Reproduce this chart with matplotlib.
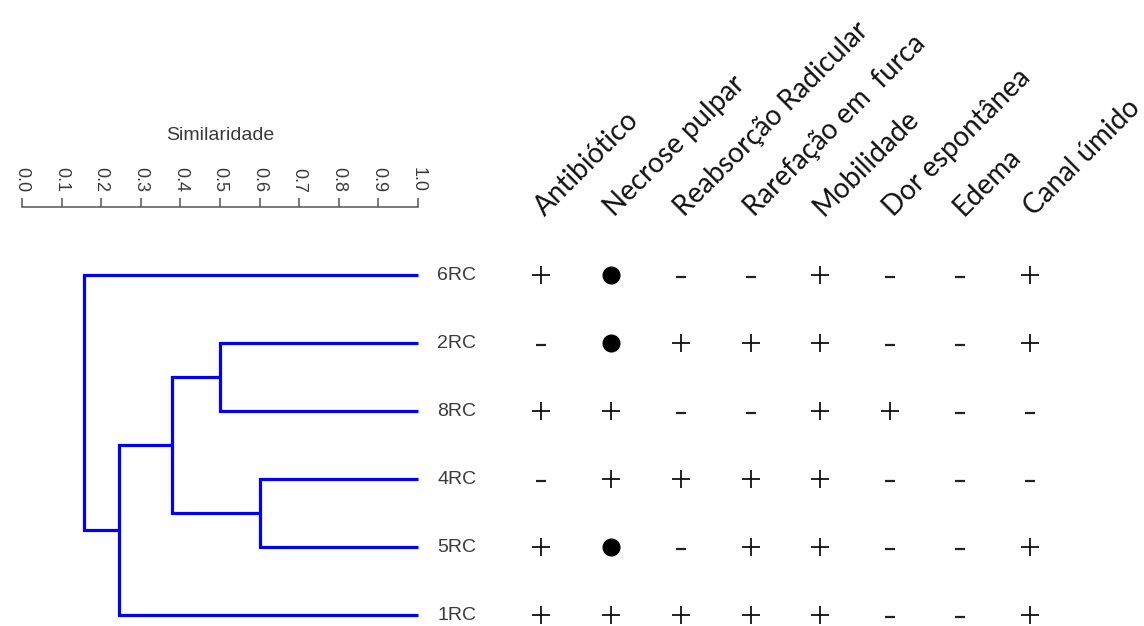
import matplotlib.pyplot as plt

# folhas do dendrograma (de cima para baixo)
leaves = ['6RC', '2RC', '8RC', '4RC', '5RC', '1RC']

# fusoes: nos 0..5 sao as folhas, nos novos recebem 6, 7, 8...
merge_left = [1, 3, 6, 8, 0]
merge_right = [2, 4, 7, 5, 9]
merge_sim = [0.50, 0.60, 0.38, 0.245, 0.157]

sim_ticks = [0.0, 0.1, 0.2, 0.3, 0.4, 0.5, 0.6, 0.7, 0.8, 0.9, 1.0]

columns = ['Antibiótico', 'Necrose pulpar', 'Reabsorção Radicular',
           'Rarefação em  furca', 'Mobilidade', 'Dor espontânea',
           'Edema', 'Canal úmido']

# '+' presente, '-' ausente, 'o' = ponto
table = [
    ['+', 'o', '-', '-', '+', '-', '-', '+'],   # 6RC
    ['-', 'o', '+', '+', '+', '-', '-', '+'],   # 2RC
    ['+', '+', '-', '-', '+', '+', '-', '-'],   # 8RC
    ['-', '+', '+', '+', '+', '-', '-', '-'],   # 4RC
    ['+', 'o', '-', '+', '+', '-', '-', '+'],   # 5RC
    ['+', '+', '+', '+', '+', '-', '-', '+'],   # 1RC
]

W, H = 1144, 626
fig = plt.figure(figsize=(W / 100, H / 100), dpi=100)


def px_axes(x0, y0, x1, y1):
    return fig.add_axes([x0 / W, 1 - y1 / H, (x1 - x0) / W, (y1 - y0) / H])


row_px = 68.0
ylim = (len(leaves) - 1 + (626 - 615) / row_px, -(275 - 207) / row_px)

# ---------------- dendrograma ----------------
ax = px_axes(22, 207, 418, 626)
ax.set_xlim(0, 1)
ax.set_ylim(*ylim)

nodes = [(1.0, i) for i in range(len(leaves))]
for a, b, s in zip(merge_left, merge_right, merge_sim):
    xa, ya = nodes[a]
    xb, yb = nodes[b]
    ax.plot([xa, s, s, xb], [ya, ya, yb, yb], color='#0000ff', lw=2.3,
            solid_joinstyle='miter', solid_capstyle='butt', clip_on=False)
    nodes.append((s, (ya + yb) / 2))

for i, name in enumerate(leaves):
    ax.annotate(name, (1.0, i), xytext=(14, 0), textcoords='offset points',
                va='center', ha='left', fontsize=14, color='#3a3a3a',
                family='Liberation Sans', annotation_clip=False)

for side in ['left', 'right', 'bottom']:
    ax.spines[side].set_visible(False)
ax.spines['top'].set_color('#555555')
ax.spines['top'].set_linewidth(1.1)
ax.xaxis.tick_top()
ax.xaxis.set_label_position('top')
ax.set_xticks(sim_ticks)
ax.set_xticklabels([f'{t:.1f}' for t in sim_ticks], rotation=-90,
                   fontsize=13, color='#3a3a3a', family='Liberation Sans')
ax.tick_params(axis='x', direction='out', length=6.5, width=1.1,
               color='#555555', pad=4)
ax.set_yticks([])
ax.set_xlabel('Similaridade', fontsize=14, color='#3a3a3a',
              family='Liberation Sans', labelpad=20)

# ---------------- tabela de sinais ----------------
ax2 = px_axes(541 - 35, 207, 1030 + 35, 626)
ax2.set_xlim(-0.5, len(columns) - 0.5)
ax2.set_ylim(*ylim)
ax2.axis('off')

for r, row in enumerate(table):
    for c, v in enumerate(row):
        if v == '+':
            ax2.plot(c, r, marker='+', ms=12.5, mew=1.3, color='#111111')
        elif v == '-':
            ax2.plot(c, r + 0.03, marker='_', ms=7, mew=1.6, color='#222222')
        else:
            ax2.plot(c, r, marker='o', ms=12, color='black')

for c, lab in enumerate(columns):
    ax2.text(c + 0.05, -0.85, lab, rotation=45, rotation_mode='anchor',
             ha='left', va='baseline', fontsize=20, family='Lato',
             color='#111111')

fig.savefig('out.png', dpi=100)
